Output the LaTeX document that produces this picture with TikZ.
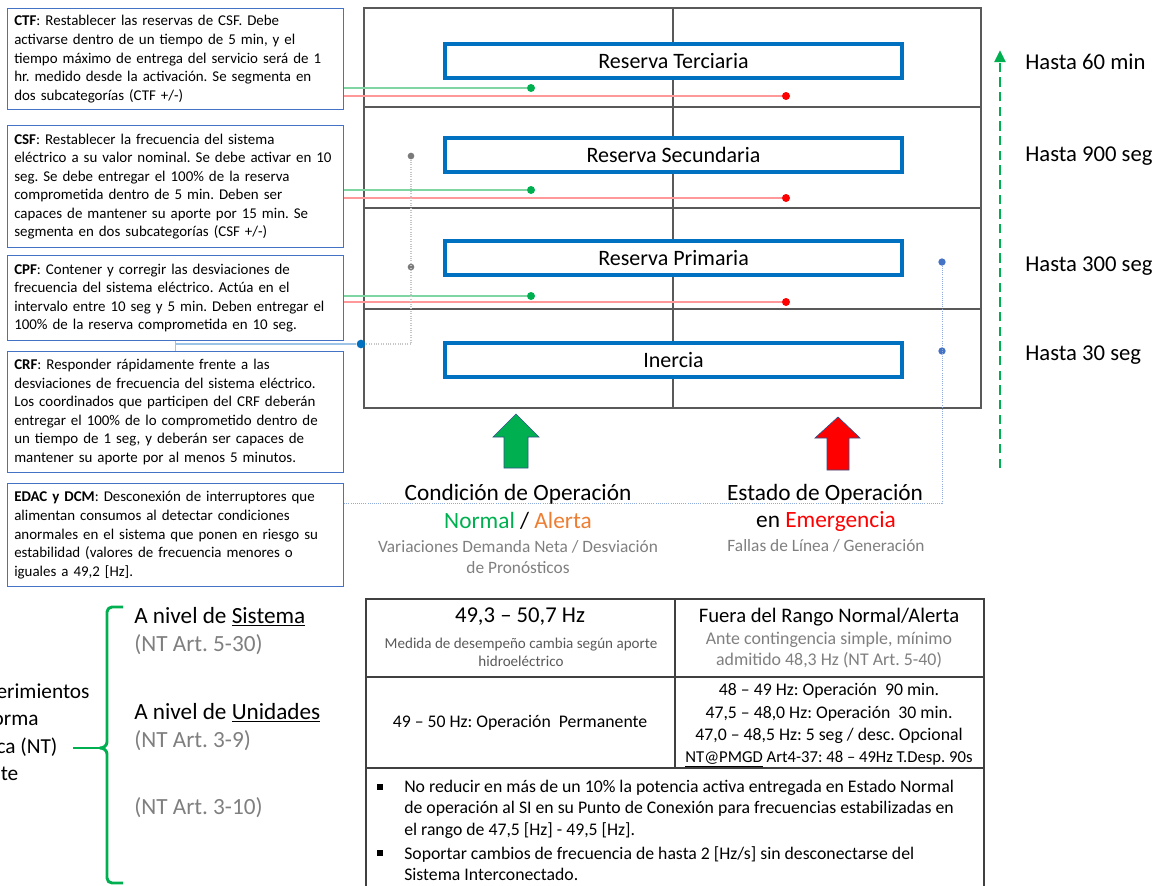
\documentclass[tikz,border=0pt]{standalone}
\usepackage{fontspec}
\setmainfont{Carlito}
\usetikzlibrary{arrows.meta}
\usepackage{xcolor}

\definecolor{gridgray}{HTML}{595959}
\definecolor{resblue}{HTML}{0070C0}
\definecolor{boxblue}{HTML}{4472C4}
\definecolor{okgreen}{HTML}{00B050}
\definecolor{lightgreen}{HTML}{7FD6A3}
\definecolor{lightred}{HTML}{FF9999}
\definecolor{alertorange}{HTML}{ED7D31}
\definecolor{txtgray}{HTML}{7F7F7F}
\definecolor{linkblue}{HTML}{9DC3E6}
\definecolor{tblgray}{HTML}{404040}

\newcommand{\fsz}[2]{\fontsize{#1}{#2}\selectfont}

\begin{document}
\frenchspacing
\begin{tikzpicture}[x=0.75pt,y=-0.75pt,>={Triangle[length=9pt,width=8pt]},
  infobox/.style={draw=boxblue,line width=0.9pt,anchor=north west,align=left,
    text width=242pt,inner xsep=5pt,inner ysep=2pt,font=\fsz{11.2}{13.9}},
  resbox/.style={draw=resblue,line width=3pt,fill=white,minimum width=343pt,
    minimum height=26pt,inner sep=0pt,font=\fsz{16.5}{19}},
  gridln/.style={draw=gridgray,line width=2pt},
  tblln/.style={draw=tblgray,line width=1.4pt},
  endpt/.style={circle,fill=#1,inner sep=0pt,minimum size=6pt},
  lnok/.style={draw=lightgreen,line width=1pt},
  lnemg/.style={draw=lightred,line width=1pt},
  lnlink/.style={draw=linkblue,line width=1.2pt},
  lngray/.style={draw=gray!45,line width=0.8pt,densely dotted},
  lnblue/.style={draw=boxblue!60,line width=0.6pt,densely dotted},
  hastalbl/.style={anchor=west,inner sep=0pt,font=\fsz{17}{20}},
  subtxt/.style={align=center,text=txtgray,font=\fsz{13}{15.75}},
  lvl/.style={anchor=west,inner sep=0pt,font=\fsz{17.4}{21}},
  celltxt/.style={align=center,inner sep=0pt}]
\useasboundingbox (0,0) rectangle (1165,886);
\clip (0,0) rectangle (1165,886);

% rejilla de reservas
\draw[gridln] (364,8) rectangle (981,408);
\draw[gridln] (673,8) -- (673,408);
\foreach \yy in {107,208,309}
  \draw[gridln] (364,\yy) -- (981,\yy);

\node[resbox] (rterc) at (673.5,61) {Reserva Terciaria};
\node[resbox] (rsec) at (673.5,155) {Reserva Secundaria};
\node[resbox] (rprim) at (673.5,258) {Reserva Primaria};
\node[resbox] (inerc) at (673.5,360) {Inercia};

% descripciones
\node[infobox,minimum height=75.75pt] (ctf) at (7,8)
  {\textbf{CTF}: Restablecer las reservas de CSF. Debe\\
   activarse dentro de un tiempo de 5 min, y el\\
   tiempo máximo de entrega del servicio será de 1\\
   hr. medido desde la activación. Se segmenta en\\
   dos subcategorías (CTF +/-)};
\node[infobox,minimum height=91.5pt] (csf) at (7,125)
  {\textbf{CSF}: Restablecer la frecuencia del sistema\\
   eléctrico a su valor nominal. Se debe activar en 10\\
   seg. Se debe entregar el 100\% de la reserva\\
   comprometida dentro de 5 min. Deben ser\\
   capaces de mantener su aporte por 15 min. Se\\
   segmenta en dos subcategorías (CSF +/-)};
\node[infobox,minimum height=63.75pt] (cpf) at (7,255)
  {\textbf{CPF}: Contener y corregir las desviaciones de\\
   frecuencia del sistema eléctrico. Actúa en el\\
   intervalo entre 10 seg y 5 min. Deben entregar el\\
   100\% de la reserva comprometida en 10 seg.};
\node[infobox,minimum height=90.75pt] (crf) at (7,351)
  {\textbf{CRF}: Responder rápidamente frente a las\\
   desviaciones de frecuencia del sistema eléctrico.\\
   Los coordinados que participen del CRF deberán\\
   entregar el 100\% de lo comprometido dentro de\\
   un tiempo de 1 seg, y deberán ser capaces de\\
   mantener su aporte por al menos 5 minutos.};
\node[infobox,minimum height=77.25pt] (edac) at (7,483)
  {\textbf{EDAC y DCM}: Desconexión de interruptores que\\
   alimentan consumos al detectar condiciones\\
   anormales en el sistema que ponen en riesgo su\\
   estabilidad (valores de frecuencia menores o\\
   iguales a 49,2 [Hz].};

% enlaces normal / emergencia
\node[endpt=okgreen] (gterc) at (531,88) {};
\node[endpt=red] (eterc) at (786,96) {};
\node[endpt=okgreen] (gsec) at (531,190) {};
\node[endpt=red] (esec) at (786,198) {};
\node[endpt=okgreen] (gprim) at (531,296) {};
\node[endpt=red] (eprim) at (786,302) {};
\draw[lnok] (ctf.east |- gterc) -- (gterc);
\draw[lnemg] (ctf.east |- eterc) -- (eterc);
\draw[lnok] (csf.east |- gsec) -- (gsec);
\draw[lnemg] (csf.east |- esec) -- (esec);
\draw[lnok] (cpf.east |- gprim) -- (gprim);
\draw[lnemg] (cpf.east |- eprim) -- (eprim);

% CPF / CRF hacia inercia
\node[endpt=gridgray!80,minimum size=5pt] (gy1) at (411,156) {};
\node[endpt=gridgray!80,minimum size=5pt] (gy2) at (411,267) {};
\node[endpt=resblue,minimum size=6.5pt] (bjn) at (361,344) {};
\draw[lngray] (gy1) -- (gy1 |- bjn) -- (bjn);
\draw[lnlink] (cpf.south) -- (crf.north);
\draw[lnlink] (cpf.south |- bjn) -- (bjn);

% EDAC hacia primaria e inercia
\node[endpt=boxblue,minimum size=5.5pt] (rb1) at (942,262) {};
\node[endpt=boxblue,minimum size=5.5pt] (rb2) at (942,351) {};
\coordinate (edk) at (0,503);
\draw[lnblue] (rb1) -- (rb1 |- edk) -- (edac.east |- edk);

% flechas de condicion
\filldraw[fill=okgreen,draw=boxblue!70!black,line width=0.5pt]
  (516,414) -- (539,437) -- (528,437) -- (528,468) -- (504,468) -- (504,437) -- (493,437) -- cycle;
\filldraw[fill=red,draw=boxblue!70!black,line width=0.5pt]
  (838,417) -- (860,438) -- (849,438) -- (849,470) -- (827,470) -- (827,438) -- (815,438) -- cycle;

\node[font=\fsz{17.5}{21}] (cond) at (518,494) {Condición de Operación};
\node[font=\fsz{17.5}{21}] (condst) at (518,521)
  {\textcolor{okgreen}{Normal} / \textcolor{alertorange}{Alerta}};
\node[subtxt] (condsub) at (518,557) {Variaciones Demanda Neta / Desviación\\de Pronósticos};
\node[font=\fsz{17.5}{21}] (est) at (825,494) {Estado de Operación};
\node[font=\fsz{17.5}{21}] (estst) at (826,521) {en \textcolor{red}{Emergencia}};
\node[subtxt] (estsub) at (826,546) {Fallas de Línea / Generación};

% tiempos
\draw[->,okgreen,line width=2.2pt,dash pattern=on 7pt off 4pt] (1000,468) -- (1000,50);
\node[hastalbl] (h60) at (1025,62) {Hasta 60 min};
\node[hastalbl] (h900) at (1025,156) {Hasta 900 seg};
\node[hastalbl] (h300) at (1025,266) {Hasta 300 seg};
\node[hastalbl] (h30) at (1025,355) {Hasta 30 seg};

% requerimientos NT
\node[lvl,align=left,font=\fsz{16}{20.6}] (req) at (-48,734)
  {Requerimientos\\de Norma\\Técnica (NT)\\Vigente};
\draw[okgreen,line width=2.2pt,line join=round]
  (123,607) -- (112,607) to[out=180,in=90] (107,612) -- (107,742)
  to[out=-90,in=0] (100,748) to[out=0,in=90] (107,754) -- (107,878)
  to[out=-90,in=180] (112,883) -- (123,883);
\draw[okgreen,line width=2.2pt] (73,748) -- (100,748);
\node[lvl] (nsis) at (134,617) {A nivel de \underline{Sistema}};
\node[lvl,text=txtgray] (asis) at (134,645) {(NT Art. 5-30)};
\node[lvl] (nuni) at (134,713) {A nivel de \underline{Unidades}};
\node[lvl,text=txtgray] (auni) at (134,741) {(NT Art. 3-9)};
\node[lvl,text=txtgray] (auni2) at (134,808) {(NT Art. 3-10)};

% tabla
\draw[tblln] (366,599) rectangle (984,950);
\draw[tblln] (675,599) -- (675,768);
\draw[tblln] (366,677) -- (984,677);
\draw[tblln] (366,768) -- (984,768);

\node[celltxt,font=\fsz{17}{19}] (c11) at (520,617) {49,3 – 50,7 Hz};
\node[celltxt,font=\fsz{11.3}{13.5},text=gridgray] (c11s) at (521,652)
  {Medida de desempeño cambia según aporte\\hidroeléctrico};
\node[celltxt,font=\fsz{15.5}{18}] (c12) at (829,617) {Fuera del Rango Normal/Alerta};
\node[celltxt,font=\fsz{13.4}{15.75},text=txtgray] (c12s) at (829,650.5)
  {Ante contingencia simple, mínimo\\admitido 48,3 Hz (NT Art. 5-40)};
\node[celltxt,font=\fsz{13.3}{16}] (c21) at (520,723) {49 – 50 Hz: Operación\ \ Permanente};
\node[celltxt,font=\fsz{13.3}{16.7}] (c22) at (829,725.5)
  {48 – 49 Hz: Operación\ \ 90 min.\\
   47,5 – 48,0 Hz: Operación\ \ 30 min.\\
   47,0 – 48,5 Hz: 5 seg / desc. Opcional\\
   {\fsz{12.5}{16.7}\underline{NT@PMGD} Art4-37: 48 – 49Hz T.Desp. 90s}};

\node[fill=black,inner sep=0pt,minimum size=4pt] (bl1) at (380,787) {};
\node[fill=black,inner sep=0pt,minimum size=4pt] (bl2) at (380,853) {};
\node[anchor=west,align=left,inner sep=0pt,font=\fsz{13.3}{16.1}] (bt1) at (404,809)
  {No reducir en más de un 10\% la potencia activa entregada en Estado Normal\\
   de operación al SI en su Punto de Conexión para frecuencias estabilizadas en\\
   el rango de 47,5 [Hz] - 49,5 [Hz].};
\node[anchor=west,align=left,inner sep=0pt,font=\fsz{13.3}{16.1}] (bt2) at (404,863.5)
  {Soportar cambios de frecuencia de hasta 2 [Hz/s] sin desconectarse del\\
   Sistema Interconectado.};
\end{tikzpicture}
\end{document}
